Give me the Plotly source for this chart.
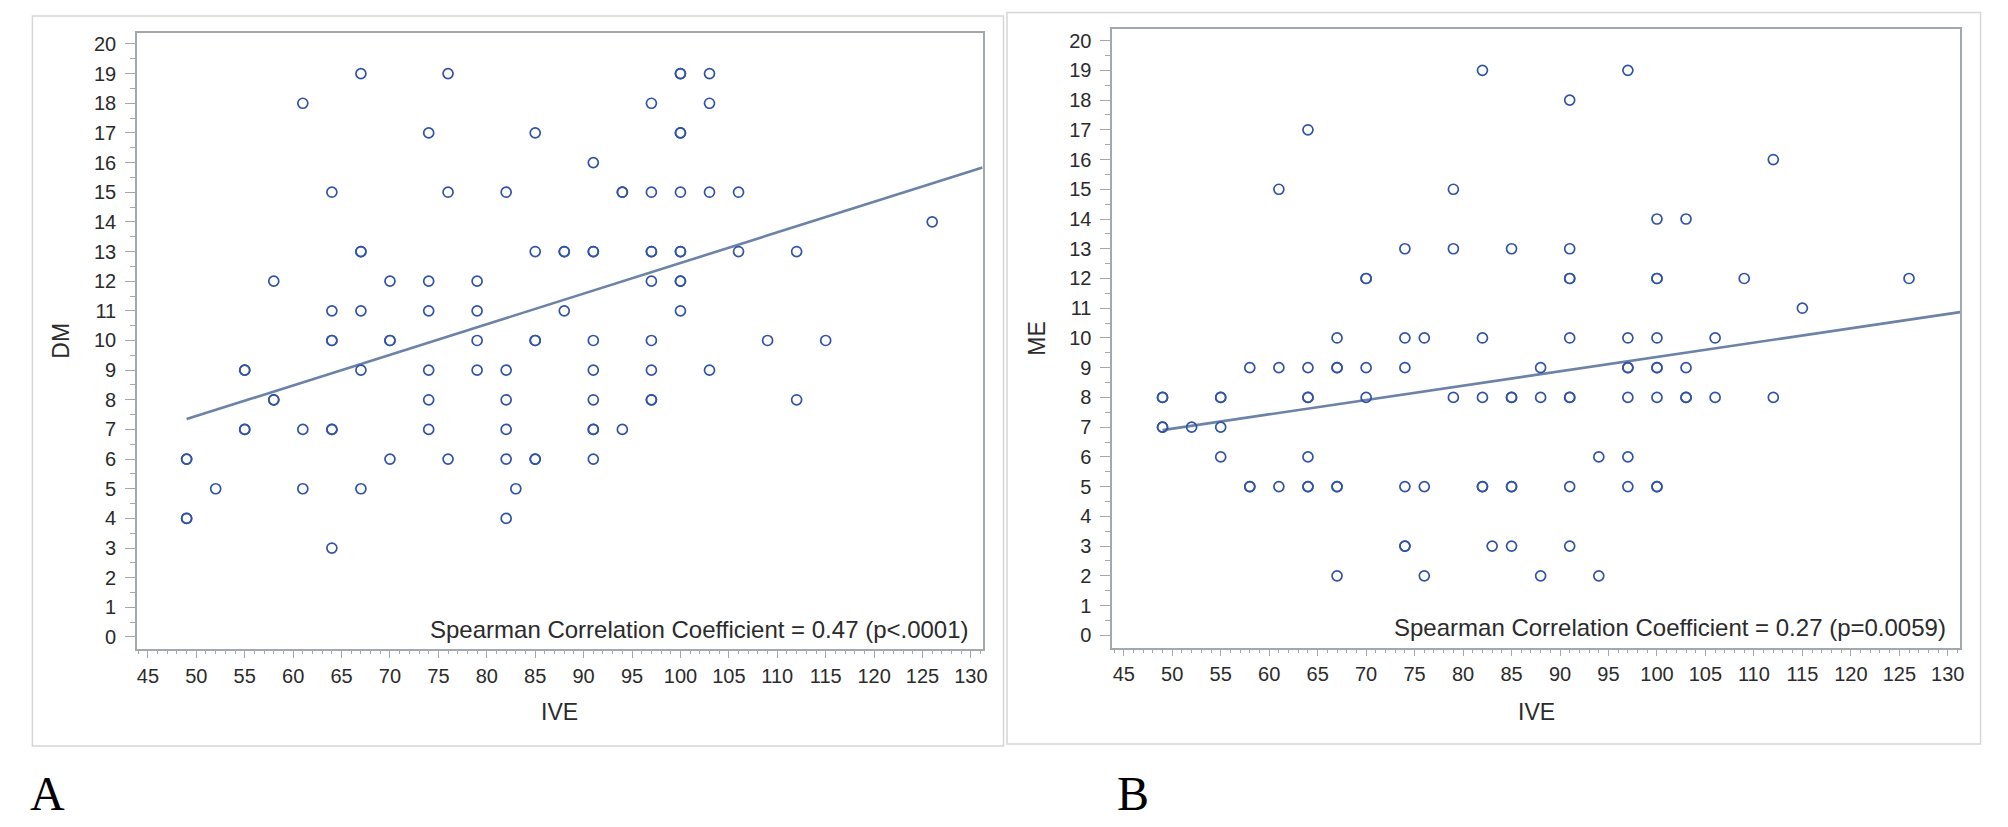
import numpy as np
import plotly.graph_objects as go

# ---------------- data ----------------
ive_a = [67, 76, 100, 100, 103,
         61, 97, 103,
         74, 85, 100, 100,
         91,
         64, 76, 82, 94, 94, 97, 100, 103, 106,
         126,
         67, 67, 85, 88, 88, 91, 91, 97, 97, 100, 100, 106, 112,
         58, 70, 74, 79, 97, 100, 100,
         64, 67, 74, 79, 88, 100,
         64, 64, 70, 70, 79, 85, 85, 91, 97, 109, 115,
         55, 55, 67, 74, 79, 82, 91, 97, 103,
         58, 58, 74, 82, 91, 97, 97, 112,
         55, 55, 61, 64, 64, 74, 82, 91, 91, 94,
         49, 49, 70, 76, 82, 85, 85, 91,
         52, 61, 67, 83,
         49, 49, 82,
         64]
dm_a = [19, 19, 19, 19, 19,
        18, 18, 18,
        17, 17, 17, 17,
        16,
        15, 15, 15, 15, 15, 15, 15, 15, 15,
        14,
        13, 13, 13, 13, 13, 13, 13, 13, 13, 13, 13, 13, 13,
        12, 12, 12, 12, 12, 12, 12,
        11, 11, 11, 11, 11, 11,
        10, 10, 10, 10, 10, 10, 10, 10, 10, 10, 10,
        9, 9, 9, 9, 9, 9, 9, 9, 9,
        8, 8, 8, 8, 8, 8, 8, 8,
        7, 7, 7, 7, 7, 7, 7, 7, 7, 7,
        6, 6, 6, 6, 6, 6, 6, 6,
        5, 5, 5, 5,
        4, 4, 4,
        3]

ive_b = [82, 97,
         91,
         64,
         112,
         61, 79,
         100, 103,
         74, 79, 85, 91,
         70, 70, 91, 91, 100, 100, 109, 126,
         115,
         67, 74, 76, 82, 91, 97, 100, 106,
         58, 61, 64, 67, 67, 70, 74, 88, 97, 97, 100, 100, 103,
         49, 49, 55, 55, 64, 64, 70, 79, 82, 85, 85, 88, 91, 91, 97, 100, 103, 103, 106, 112,
         49, 49, 52, 55,
         55, 64, 94, 97,
         58, 58, 61, 64, 64, 67, 67, 74, 76, 82, 82, 85, 85, 91, 97, 100, 100,
         74, 74, 83, 85, 91,
         67, 76, 88, 94]
me_b = [19, 19,
        18,
        17,
        16,
        15, 15,
        14, 14,
        13, 13, 13, 13,
        12, 12, 12, 12, 12, 12, 12, 12,
        11,
        10, 10, 10, 10, 10, 10, 10, 10,
        9, 9, 9, 9, 9, 9, 9, 9, 9, 9, 9, 9, 9,
        8, 8, 8, 8, 8, 8, 8, 8, 8, 8, 8, 8, 8, 8, 8, 8, 8, 8, 8, 8,
        7, 7, 7, 7,
        6, 6, 6, 6,
        5, 5, 5, 5, 5, 5, 5, 5, 5, 5, 5, 5, 5, 5, 5, 5, 5,
        3, 3, 3, 3, 3,
        2, 2, 2, 2]

# regression lines as drawn in the picture (slope, intercept)
slope_a, intercept_a = 0.1032, 2.293
slope_b, intercept_b = 0.04824, 4.536

x_ticks = [45, 50, 55, 60, 65, 70, 75, 80, 85, 90, 95, 100, 105, 110, 115, 120, 125, 130]
y_ticks = list(range(0, 21))
label_a = "Spearman Correlation Coefficient = 0.47 (p<.0001)"
label_b = "Spearman Correlation Coefficient = 0.27 (p=0.0059)"

# ---------------- layout geometry ----------------
W, H = 2008, 827
def px(x):
    return x / W
def py(y):
    return 1 - y / H

MARK = "#3053A8"
LINE = "#6C82A6"
AXC = "#A3A8AF"
TXT = "#2B2B2B"
FONT = "Liberation Sans, Arial, sans-serif"

fig = go.Figure()

panels = [
    dict(x=ive_a, y=dm_a, fit=(slope_a, intercept_a), xa="x", ya="y",
         xr=[43.87, 131.2], yr=[-0.405, 20.38],
         xd=[px(137.3), px(985)], yd=[py(649), py(32.7)], ytitle="DM",
         ytx=61, label=label_a, lx=973, ly=629, frame=(32.5, 16, 1006, 746),
         letter="A", letx=48, lety=793),
    dict(x=ive_b, y=me_b, fit=(slope_b, intercept_b), xa="x2", ya="y2",
         xr=[43.81, 131.27], yr=[-0.417, 20.39],
         xd=[px(1115), px(1965)], yd=[py(647.7), py(29)], ytitle="ME",
         ytx=1040, label=label_b, lx=1953, ly=627, frame=(1009.5, 12.5, 1985.5, 744),
         letter="B", letx=1136, lety=793),
]

annotations = []
shapes = []
for i, p in enumerate(panels):
    xs = np.array(p["x"], dtype=float)
    ys = np.array(p["y"], dtype=float)
    slope, icpt = p["fit"]
    lx = np.array([xs.min(), p["xr"][1]])
    fig.add_trace(go.Scatter(x=lx, y=icpt + slope * lx, mode="lines",
                             line=dict(color=LINE, width=2.6),
                             xaxis=p["xa"], yaxis=p["ya"], showlegend=False,
                             hoverinfo="skip"))
    fig.add_trace(go.Scatter(x=xs, y=ys, mode="markers",
                             marker=dict(symbol="circle-open", size=10,
                                         color=MARK, line=dict(width=1.7, color=MARK)),
                             xaxis=p["xa"], yaxis=p["ya"], showlegend=False))
    suffix = "" if i == 0 else "2"
    fig.update_layout(**{
        "xaxis" + suffix: dict(
            domain=p["xd"], range=p["xr"], anchor=p["ya"],
            tickmode="array", tickvals=x_ticks, ticktext=[str(t) for t in x_ticks],
            ticks="outside", ticklen=7, tickwidth=1.3, tickcolor=AXC,
            showline=True, linecolor=AXC, linewidth=1.5, mirror=True,
            showgrid=False, zeroline=False, ticklabelstandoff=1,
            tickfont=dict(family=FONT, size=20, color=TXT),
            minor=dict(tickmode="linear", tick0=45, dtick=1, ticks="outside",
                       ticklen=3.5, tickwidth=1.1, tickcolor=AXC, showgrid=False),
        ),
        "yaxis" + suffix: dict(
            domain=p["yd"], range=p["yr"], anchor=p["xa"],
            tickmode="array", tickvals=y_ticks, ticktext=[str(t) for t in y_ticks],
            ticks="outside", ticklen=10, tickwidth=1.3, tickcolor=AXC,
            showline=True, linecolor=AXC, linewidth=1.5, mirror=True,
            showgrid=False, zeroline=False, ticklabelstandoff=5,
            tickfont=dict(family=FONT, size=20, color=TXT),
            minor=dict(tickmode="linear", tick0=0, dtick=0.5, ticks="outside",
                       ticklen=5.5, tickwidth=1.1, tickcolor=AXC, showgrid=False),
        ),
    })
    # axis titles
    cx = (p["xd"][0] + p["xd"][1]) / 2
    annotations.append(dict(text="IVE", x=cx, y=py(712), xref="paper", yref="paper",
                            showarrow=False, xanchor="center", yanchor="middle",
                            font=dict(family=FONT, size=23, color=TXT)))
    cy = (p["yd"][0] + p["yd"][1]) / 2
    annotations.append(dict(text=p["ytitle"], x=px(p["ytx"]), y=cy, xref="paper", yref="paper",
                            showarrow=False, xanchor="center", yanchor="middle", textangle=-90,
                            font=dict(family=FONT, size=23, color=TXT)))
    # correlation text
    annotations.append(dict(text=p["label"], x=px(p["lx"]), y=py(p["ly"]), xref="paper",
                            yref="paper", showarrow=False, xanchor="right", yanchor="middle",
                            font=dict(family=FONT, size=24, color=TXT)))
    # panel letter
    annotations.append(dict(text=p["letter"], x=px(p["letx"]), y=py(p["lety"]), xref="paper",
                            yref="paper", showarrow=False, xanchor="center", yanchor="middle",
                            font=dict(family="Liberation Serif, Times New Roman, serif",
                                      size=48, color="#000000")))
    x0, y0, x1, y1 = p["frame"]
    shapes.append(dict(type="rect", xref="paper", yref="paper",
                       x0=px(x0), x1=px(x1), y0=py(y1), y1=py(y0),
                       line=dict(color="#D6D6D6", width=1.5), fillcolor="rgba(0,0,0,0)",
                       layer="below"))

fig.update_layout(width=W, height=H, margin=dict(l=0, r=0, t=0, b=0),
                  paper_bgcolor="white", plot_bgcolor="white",
                  annotations=annotations, shapes=shapes, showlegend=False)

fig.write_html("out.html", config={"displayModeBar": False},
               post_script="document.body.style.margin='0';document.body.style.padding='0';")
